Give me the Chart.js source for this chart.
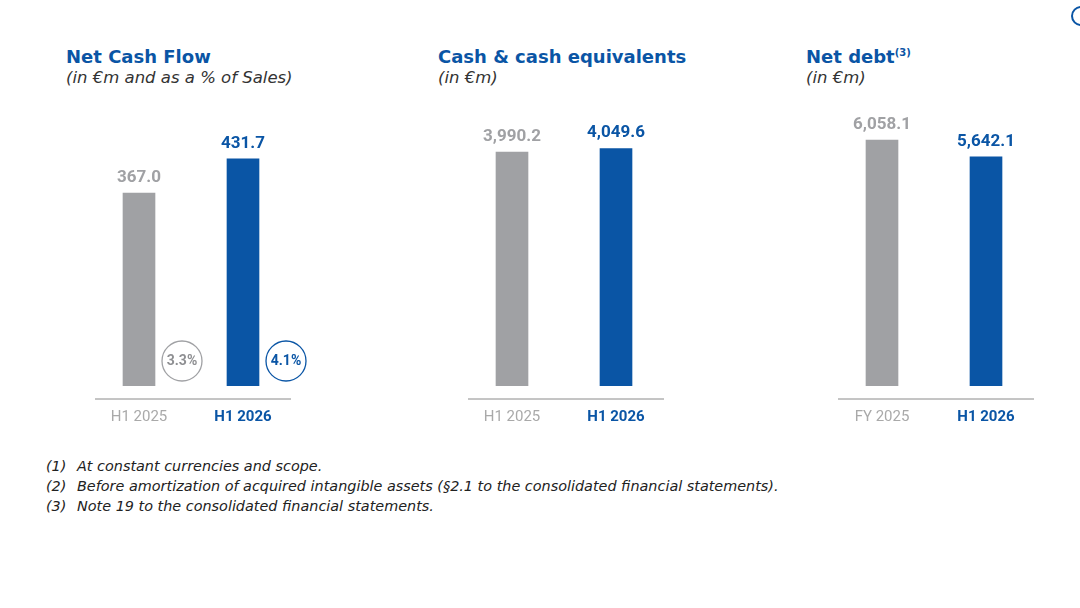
<!DOCTYPE html>
<html>
<head>
<meta charset="utf-8">
<script src="https://cdn.jsdelivr.net/npm/chart.js@4.4.0/dist/chart.umd.min.js"></script>
<style>
  body { margin: 0; width: 1080px; height: 608px; background: #fff; font-family: Roboto, Arial, sans-serif; position: relative; overflow: hidden; }
  .t { position: absolute; color: #0a55a5; font-family: "DejaVu Sans", sans-serif; }
  .t b { font-size: 18px; font-weight: 700; display: block; }
  .t i { font-size: 16.5px; color: #333; display: block; margin-top: 1px; }
  .t sup { font-size: 10px; }
  .box { position: absolute; top: 100px; height: 340px; }
  .notes { position: absolute; left: 46px; top: 456px; font-size: 14.4px; font-style: italic; color: #222; line-height: 20px; font-family: "DejaVu Sans", sans-serif; }
  .notes span { display: inline-block; width: 31px; }
  .dot { position: absolute; left: 1071px; top: 6px; width: 16px; height: 16px; border: 2px solid #0a55a5; border-radius: 50%; }
</style>
</head>
<body>
<div class="dot"></div>
<div class="t" style="left:66px;top:46px"><b>Net Cash Flow</b><i>(in €m and as a % of Sales)</i></div>
<div class="t" style="left:438px;top:46px"><b>Cash &amp; cash equivalents</b><i>(in €m)</i></div>
<div class="t" style="left:806px;top:46px"><b>Net debt<sup>(3)</sup></b><i>(in €m)</i></div>

<div class="box" style="left:87px;width:228px"><canvas id="c1"></canvas></div>
<div class="box" style="left:460px;width:208px"><canvas id="c2"></canvas></div>
<div class="box" style="left:830px;width:208px"><canvas id="c3"></canvas></div>

<div class="notes">
<div><span>(1)</span>At constant currencies and scope.</div>
<div><span>(2)</span>Before amortization of acquired intangible assets (§2.1 to the consolidated financial statements).</div>
<div><span>(3)</span>Note 19 to the consolidated financial statements.</div>
</div>

<script>
var cashFlowLabels = ['H1 2025', 'H1 2026'];
var cashFlowValues = [367.0, 431.7];
var cashFlowPct = ['3.3%', '4.1%'];
var cashLabels = ['H1 2025', 'H1 2026'];
var cashValues = [3990.2, 4049.6];
var debtLabels = ['FY 2025', 'H1 2026'];
var debtValues = [6058.1, 5642.1];

var GREY = '#a0a1a4';
var BLUE = '#0a55a5';

function fmt(v) {
  return v.toLocaleString('en-US', { minimumFractionDigits: 1, maximumFractionDigits: 1 });
}

var labelPlugin = {
  id: 'labels',
  afterDatasetsDraw: function(chart) {
    var ctx = chart.ctx;
    var meta = chart.getDatasetMeta(0);
    var pct = chart.options.plugins.labels.pct;
    ctx.save();
    meta.data.forEach(function(bar, i) {
      var col = i === 0 ? GREY : BLUE;
      ctx.fillStyle = col;
      ctx.font = 'bold 17px Roboto';
      ctx.textAlign = 'center';
      ctx.textBaseline = 'bottom';
      ctx.fillText(fmt(chart.data.datasets[0].data[i]), bar.x, bar.y - 7);
      if (pct) {
        var cx = bar.x + 43, cy = chart.chartArea.bottom - 25;
        ctx.beginPath();
        ctx.arc(cx, cy, 20, 0, Math.PI * 2);
        ctx.strokeStyle = col;
        ctx.lineWidth = 1.3;
        ctx.stroke();
        ctx.font = 'bold 14px Roboto';
        ctx.textBaseline = 'middle';
        ctx.fillStyle = i === 0 ? '#8e8f92' : BLUE;
        ctx.fillText(pct[i], cx, cy);
      }
    });
    var b = chart.chartArea.bottom + 13;
    ctx.beginPath();
    ctx.moveTo(chart.chartArea.left + 8, b);
    ctx.lineTo(chart.chartArea.right - 4, b);
    ctx.strokeStyle = '#8a8a8a';
    ctx.lineWidth = 1;
    ctx.stroke();
    ctx.restore();
  }
};

function makeChart(id, labels, values, max, pct) {
  return new Chart(document.getElementById(id), {
    type: 'bar',
    data: {
      labels: labels,
      datasets: [{
        data: values,
        backgroundColor: [GREY, BLUE],
        barThickness: 32,
        borderWidth: 0
      }]
    },
    options: {
      responsive: true,
      maintainAspectRatio: false,
      animation: false,
      layout: { padding: { top: 20, left: 0, right: pct ? 20 : 0, bottom: 0 } },
      scales: {
        x: {
          grid: { display: false },
          border: { display: false },
          ticks: {
            padding: 14,
            color: function(c) { return c.index === 0 ? '#a9a9a9' : BLUE; },
            font: function(c) { return { size: 15, family: 'Roboto', weight: c.index === 0 ? 'normal' : 'bold' }; }
          }
        },
        y: { display: false, min: 0, max: max }
      },
      plugins: {
        legend: { display: false },
        tooltip: { enabled: false },
        labels: { pct: pct }
      }
    },
    plugins: [labelPlugin]
  });
}

makeChart('c1', cashFlowLabels, cashFlowValues, 505.7, cashFlowPct);
makeChart('c2', cashLabels, cashValues, 4539, null);
makeChart('c3', debtLabels, debtValues, 6552, null);
</script>
</body>
</html>
